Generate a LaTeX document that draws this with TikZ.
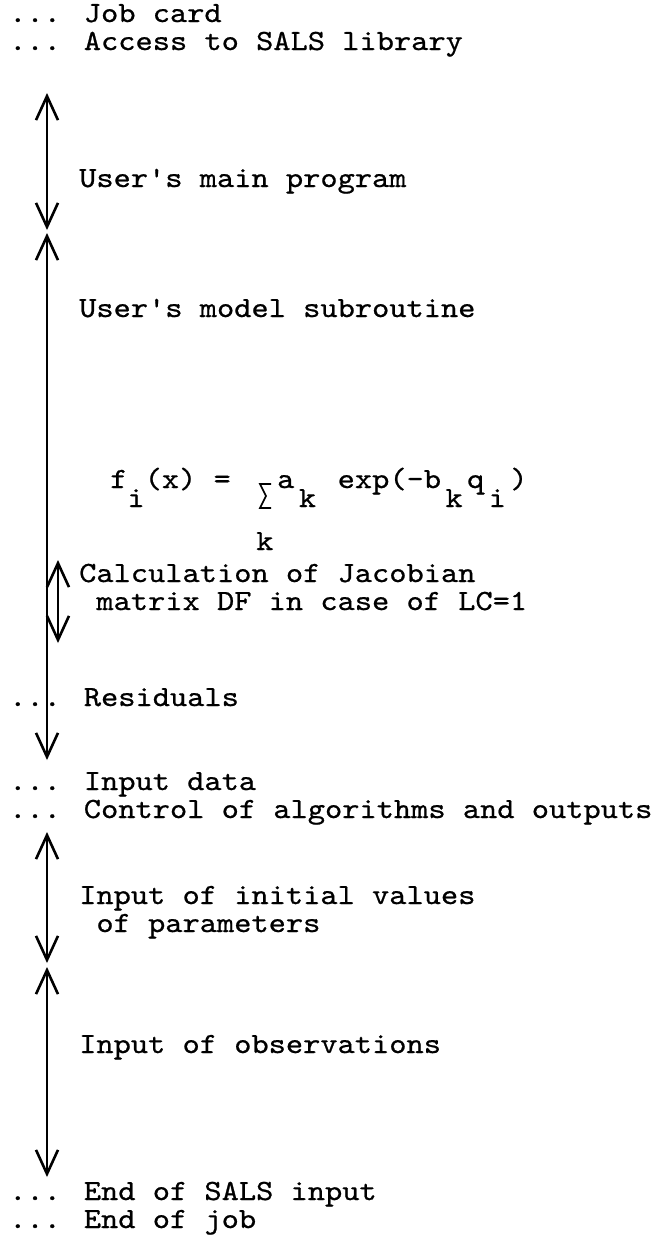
\documentclass[tikz,border=0pt]{standalone}
\usepackage{fontspec}
\usetikzlibrary{arrows.meta}
% typewriter face: widened mono so one character cell is about 0.6em, as on the original typewriter
\newfontfamily\tw{lmmono10-regular}[Extension=.otf, FakeStretch=1.12, FakeBold=0.7]
% typewriter subscripts: lowered by half a line
\newcommand\lowr[1]{\raisebox{-19pt}{#1}}
\newcommand\lowrw[1]{\hspace{4.4pt}\raisebox{-19pt}{#1}\hspace{4.4pt}}
\begin{document}
\begin{tikzpicture}[x=1pt,y=-1pt,
  lbl/.style={anchor=base west, inner sep=0pt, font=\tw\fontsize{29.3}{29.3}\selectfont},
  span/.style={line width=2.6pt, {Straight Barb[length=24pt,width=22pt]}-{Straight Barb[length=24pt,width=22pt]}}]
\useasboundingbox (0,0) rectangle (659,1235);

% job control cards
\node[lbl] (job)    at (9,22)   {... Job card};
\node[lbl] (sals)   at (9,50)   {... Access to SALS library};
\node[lbl] (main)   at (79,187) {User's main program};
\node[lbl] (model)  at (79,317) {User's model subroutine};

% model function
\node[lbl] (fl)   at (110,488) {f\lowr{i}(x) =};
\draw[line width=1.6pt] (271,484) -- (260,484) -- (266,496) -- (260,508) -- (271,508);
\node[lbl] (sumk) at (256,550) {k};
\node[lbl] (fr)   at (277,488) {a\lowrw{k} exp(-b\lowrw{k}q\lowrw{i})};

\node[lbl] (jac1)  at (79,582) {Calculation of Jacobian};
\node[lbl] (jac2)  at (79,610) {\ matrix DF in case of LC=1};
\node[lbl] (resid) at (9,706)  {... Residuals};
\node[lbl] (indat) at (9,790)  {... Input data};
\node[lbl] (ctrl)  at (9,818)  {... Control of algorithms and outputs};
\node[lbl] (init1) at (79,904) {Input of initial values};
\node[lbl] (init2) at (79,932) {\ of parameters};
\node[lbl] (obs)   at (79,1053) {Input of observations};
\node[lbl] (endin) at (9,1200) {... End of SALS input};
\node[lbl] (endjb) at (9,1228) {... End of job};

% extents of the deck sections
\coordinate (m1) at (47,93);   \coordinate (m2) at (47,230);
\coordinate (s1) at (47,233);  \coordinate (s2) at (47,760);
\coordinate (j1) at (58,560);  \coordinate (j2) at (58,643);
\coordinate (p1) at (47,832);  \coordinate (p2) at (47,963);
\coordinate (o1) at (47,967);  \coordinate (o2) at (47,1177);

\draw[span] (m1) -- (m2);
\draw[span] (s1) -- (s2);
\draw[span] (j1) -- (j2);
\draw[span] (p1) -- (p2);
\draw[span] (o1) -- (o2);
\end{tikzpicture}
\end{document}
